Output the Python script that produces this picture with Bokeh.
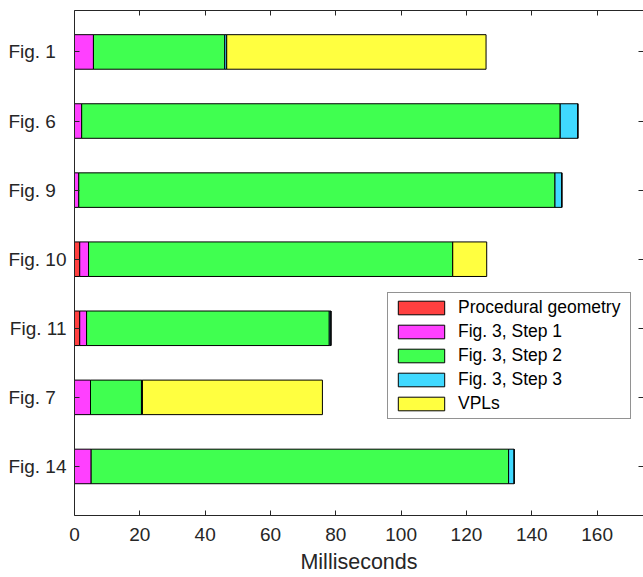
from bokeh.plotting import figure
from bokeh.models import ColumnDataSource, Range1d, FixedTicker, LinearAxis, Legend
from bokeh.embed import file_html
from bokeh.resources import INLINE

# ---- data (milliseconds) ----
figures = ["Fig. 1", "Fig. 6", "Fig. 9", "Fig. 10", "Fig. 11", "Fig. 7", "Fig. 14"]
procedural = [0.0, 0.0, 0.0, 1.6, 1.6, 0.0, 0.0]
step1 = [5.8, 2.2, 1.3, 2.7, 2.1, 4.9, 5.1]
step2 = [40.2, 146.5, 145.8, 111.5, 74.3, 15.6, 127.8]
step3 = [0.6, 5.4, 2.1, 0.0, 0.5, 0.3, 1.7]
vpls = [79.4, 0.0, 0.0, 10.4, 0.0, 55.1, 0.0]

series_names = ["Procedural geometry", "Fig. 3, Step 1", "Fig. 3, Step 2", "Fig. 3, Step 3", "VPLs"]
series_keys = ["proc", "s1", "s2", "s3", "vpl"]
colors = ["#FF4040", "#FF40FF", "#40FF50", "#40D9FF", "#FFFF40"]
x_ticks = [0, 20, 40, 60, 80, 100, 120, 140, 160]

positions = list(range(1, len(figures) + 1))
source = ColumnDataSource(dict(y=positions, proc=procedural, s1=step1, s2=step2, s3=step3, vpl=vpls))

FONT = "Liberation Sans"
AX = "#262626"

p = figure(width=643, height=577, output_backend="svg", toolbar_location=None,
           x_range=Range1d(0, 174.2), y_range=Range1d(7.71, 0.40),
           min_border_left=74, min_border_right=0, min_border_top=10, min_border_bottom=62)

renderers = p.hbar_stack(series_keys, y="y", height=0.5, color=colors, line_color="black",
                         line_width=1, source=source)

p.grid.visible = False
p.outline_line_color = None
p.background_fill_color = "white"
p.border_fill_color = "white"

labels = {}
for pos, name in zip(positions, figures):
    pad = "\u00a0\u00a0" if len(name) == 6 else ""
    labels[pos] = name + pad

# left axis
ya = p.yaxis[0]
ya.ticker = FixedTicker(ticks=positions)
ya.major_label_overrides = labels
ya.major_tick_in = 5
ya.major_tick_out = 0
ya.minor_tick_line_color = None
ya.major_label_standoff = 8
ya.major_label_text_font = FONT
ya.major_label_text_font_size = "19px"
ya.major_label_text_color = AX
ya.axis_line_color = AX
ya.major_tick_line_color = AX

# bottom axis
xa = p.xaxis[0]
xa.ticker = FixedTicker(ticks=x_ticks)
xa.major_tick_in = 5
xa.major_tick_out = 0
xa.minor_tick_line_color = None
xa.major_label_standoff = 12
xa.major_label_text_font = FONT
xa.major_label_text_font_size = "19px"
xa.major_label_text_color = AX
xa.axis_label = "Milliseconds"
xa.axis_label_text_font = FONT
xa.axis_label_text_font_size = "21.5px"
xa.axis_label_text_font_style = "normal"
xa.axis_label_text_color = AX
xa.axis_label_standoff = 6
xa.axis_line_color = AX
xa.major_tick_line_color = AX

# top and right box axes with inward ticks, no labels
top = LinearAxis(ticker=FixedTicker(ticks=x_ticks), major_label_overrides={t: "" for t in x_ticks},
                 major_tick_in=5, major_tick_out=0, minor_tick_line_color=None,
                 major_label_standoff=0, axis_line_color=AX, major_tick_line_color=AX)
p.add_layout(top, "above")
right = LinearAxis(ticker=FixedTicker(ticks=positions), major_label_overrides={t: "" for t in positions},
                   major_tick_in=5, major_tick_out=0, minor_tick_line_color=None,
                   major_label_standoff=0, axis_line_color=AX, major_tick_line_color=AX)
p.add_layout(right, "right")

legend = Legend(items=[(n, [r]) for n, r in zip(series_names, renderers)],
                location=(313, 96), border_line_color=AX, border_line_width=1,
                background_fill_color="white", background_fill_alpha=1.0,
                label_text_font=FONT, label_text_font_size="17.5px", label_text_color="black",
                glyph_width=58, glyph_height=17, label_height=17, label_standoff=8,
                label_width=168, spacing=3, padding=4, margin=0)
p.add_layout(legend, "center")

open("out.html", "w").write(file_html(p, INLINE))
